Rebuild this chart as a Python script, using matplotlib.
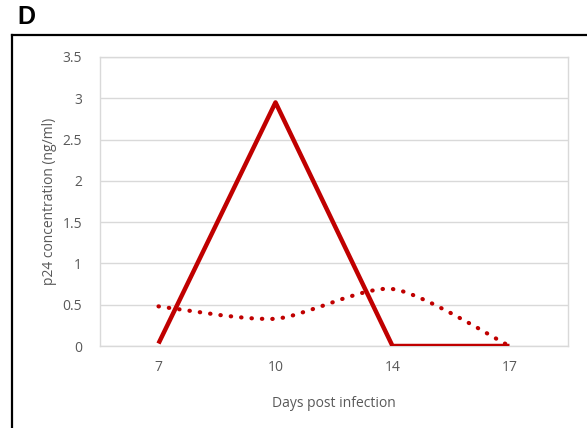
import matplotlib
matplotlib.use("Agg")
import matplotlib.pyplot as plt
from matplotlib.path import Path
from matplotlib.patches import PathPatch
from matplotlib.lines import Line2D
import numpy as np

# values
days = ["7", "10", "14", "17"]
p24_solid = [0.03, 2.95, 0.0, 0.0]
p24_dotted = [0.48, 0.33, 0.69, 0.0]
y_ticks = [0, 0.5, 1, 1.5, 2, 2.5, 3, 3.5]

red = "#C00000"
grey = "#595959"
plt.rcParams["font.family"] = ["Open Sans", "DejaVu Sans"]

fig = plt.figure(figsize=(5.87, 4.28), dpi=100)
ax = fig.add_axes([100 / 587, 1 - 346 / 428, 468 / 587, 289 / 428])

x = np.arange(len(days))
ax.plot(x, p24_solid, color=red, lw=3.2, solid_capstyle="butt", zorder=3)


def smooth_path(xs, ys, k=8.0):
    # bezier path through the points (excel-style smoothed line)
    pts = np.column_stack([xs, ys]).astype(float)
    ext = np.vstack([pts[0], pts, pts[-1]])
    verts = [pts[0]]
    codes = [Path.MOVETO]
    for i in range(len(pts) - 1):
        p0, p1, p2, p3 = ext[i], ext[i + 1], ext[i + 2], ext[i + 3]
        verts += [p1 + (p2 - p0) / k, p2 - (p3 - p1) / k, p2]
        codes += [Path.CURVE4] * 3
    return Path(verts, codes)


ax.add_patch(PathPatch(smooth_path(x, p24_dotted), fill=False, edgecolor=red,
                       lw=3, linestyle=(0, (0.1, 2.4)), capstyle="round", zorder=3))

ax.set_xlim(-0.5, len(days) - 0.5)
ax.set_ylim(0, 3.5)
ax.set_xticks(x)
ax.set_xticklabels(days)
ax.set_yticks(y_ticks)
ax.set_yticklabels(["0", "0.5", "1", "1.5", "2", "2.5", "3", "3.5"])
ax.grid(axis="y", color="#D9D9D9", lw=1)
ax.set_axisbelow(True)
for s in ax.spines.values():
    s.set_color("#D9D9D9")
    s.set_linewidth(1)
ax.tick_params(length=0, colors=grey, labelsize=10, pad=10)
ax.tick_params(axis="y", pad=13)
ax.set_xlabel("Days post infection", color=grey, fontsize=10, labelpad=15)
ax.set_ylabel("p24 concentration (ng/ml)", color=grey, fontsize=10, labelpad=4)

# panel frame and letter
fig.add_artist(Line2D([12 / 587, 12 / 587], [0, 1 - 35 / 428], color="black", lw=1.6))
fig.add_artist(Line2D([12 / 587, 1], [1 - 35 / 428, 1 - 35 / 428], color="black", lw=1.6))
fig.text(17 / 587, 1 - 17 / 428, "D", fontsize=18, fontweight="bold", va="center",
         family=["Liberation Sans", "DejaVu Sans"])

fig.savefig("out.png", dpi=100)
